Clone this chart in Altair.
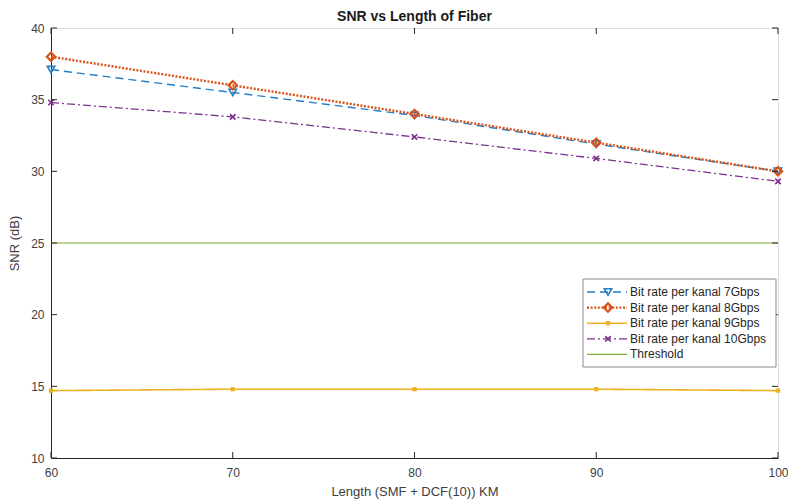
import altair as alt
import pandas as pd

lengths = [60, 70, 80, 90, 100]
series_names = [
    "Bit rate per kanal 7Gbps",
    "Bit rate per kanal 8Gbps",
    "Bit rate per kanal 9Gbps",
    "Bit rate per kanal 10Gbps",
]
snr_7 = [37.1, 35.5, 33.9, 31.9, 30.0]
snr_8 = [38.0, 36.0, 34.0, 32.0, 30.0]
snr_9 = [14.7, 14.8, 14.8, 14.8, 14.7]
snr_10 = [34.8, 33.8, 32.4, 30.9, 29.3]
threshold = 25
threshold_name = "Threshold"
x_ticks = [60, 70, 80, 90, 100]
y_ticks = [10, 15, 20, 25, 30, 35, 40]

W, H = 727, 430
FONT = "Liberation Sans"

XSHAPE = "M-1,-1L1,1M-1,1L1,-1"
colors = ["#1f7fc8", "#D95319", "#EDB120", "#7E2F8E", "#77AC30"]
dashes = [[8, 5], [2, 1.6], [1, 0], [8, 3, 2, 3], [1, 0]]
widths = [1.4, 2.4, 1.6, 1.3, 1.2]
shapes = ["triangle-down", "diamond", "square", XSHAPE, None]
msizes = [55, 70, 18, 30, 0]
mfilled = [False, False, True, False, True]
mstroke = [1.6, 2.2, 1, 1.6, 1]

all_vals = [snr_7, snr_8, snr_9, snr_10]
rows = []
for name, vals in zip(series_names, all_vals):
    for L, v in zip(lengths, vals):
        rows.append({"series": name, "length": L, "snr": v})
df = pd.DataFrame(rows)

xsc = alt.Scale(domain=[60, 100], nice=False, zero=False)
ysc = alt.Scale(domain=[10, 40], nice=False, zero=False)

xax = alt.Axis(values=x_ticks, tickSize=0, grid=False, labelPadding=9, labelFlush=False,
               domainColor="#262626", labelColor="#404040", labelFontSize=12,
               labelFont=FONT, titleFont=FONT, titleFontSize=13,
               titleFontWeight="normal", titleColor="#404040", titlePadding=7)
yax = alt.Axis(values=y_ticks, tickSize=0, grid=False, labelPadding=7, labelFlush=False,
               domainColor="#262626", labelColor="#404040", labelFontSize=12,
               labelFont=FONT, titleFont=FONT, titleFontSize=13,
               titleFontWeight="normal", titleColor="#404040", titlePadding=9)

layers = []

thr_df = pd.DataFrame({"length": [60, 100], "snr": [threshold, threshold]})
layers.append(
    alt.Chart(thr_df).mark_line(color=colors[4], strokeWidth=widths[4]).encode(
        x=alt.X("length:Q", scale=xsc, axis=xax, title="Length (SMF + DCF(10)) KM"),
        y=alt.Y("snr:Q", scale=ysc, axis=yax, title="SNR (dB)"),
    )
)

def point_mark(i):
    return dict(shape=shapes[i], size=msizes[i], filled=mfilled[i], color=colors[i],
                strokeWidth=mstroke[i], opacity=1)

for i, name in enumerate(series_names):
    sub = df[df.series == name]
    base = alt.Chart(sub).encode(
        x=alt.X("length:Q", scale=xsc, axis=xax, title="Length (SMF + DCF(10)) KM"),
        y=alt.Y("snr:Q", scale=ysc, axis=yax, title="SNR (dB)"),
    )
    layers.append(base.mark_line(color=colors[i], strokeDash=dashes[i], strokeWidth=widths[i]))
    layers.append(base.mark_point(**point_mark(i)))

# inward ticks
ytk = pd.DataFrame({"v": y_ticks})
xtk = pd.DataFrame({"v": x_ticks})
for x0, x1 in [(0, 6), (W - 6, W)]:
    layers.append(alt.Chart(ytk).mark_rule(color="#262626", strokeWidth=1).encode(
        y=alt.Y("v:Q", scale=ysc), x=alt.value(x0), x2=alt.value(x1)))
for y0, y1 in [(H, H - 6), (0, 6)]:
    layers.append(alt.Chart(xtk).mark_rule(color="#262626", strokeWidth=1).encode(
        x=alt.X("v:Q", scale=xsc), y=alt.value(y0), y2=alt.value(y1)))

# legend
leg_names = series_names + [threshold_name]
lx0, lx1, ly0, ly1 = 532, 725, 251, 339
layers.append(alt.Chart(pd.DataFrame({"a": [0]})).mark_rect(
    fill="white", stroke="#8c8c8c", strokeWidth=1).encode(
    x=alt.value(lx0), x2=alt.value(lx1), y=alt.value(ly0), y2=alt.value(ly1)))
for i, name in enumerate(leg_names):
    yy = 264 + i * 15.6
    one = pd.DataFrame({"label": [name]})
    layers.append(alt.Chart(one).mark_rule(color=colors[i], strokeDash=dashes[i],
                                            strokeWidth=widths[i]).encode(
        x=alt.value(536), x2=alt.value(576), y=alt.value(yy)))
    if shapes[i]:
        layers.append(alt.Chart(one).mark_point(**point_mark(i)).encode(
            x=alt.value(557), y=alt.value(yy)))
    layers.append(alt.Chart(one).mark_text(align="left", baseline="middle",
                                            font=FONT, fontSize=12, color="#262626").encode(
        x=alt.value(579), y=alt.value(yy), text="label:N"))

chart = alt.layer(*layers).properties(
    width=W, height=H,
    title=alt.TitleParams("SNR vs Length of Fiber", font=FONT, fontSize=14,
                          fontWeight="bold", color="#1a1a1a", offset=-2),
    autosize=alt.AutoSizeParams(type="none"),
    padding={"left": 51, "top": 28, "right": 10, "bottom": 43},
).configure_view(stroke="#999999", strokeWidth=1).configure(background="white")

chart.save("out.html", embed_options={"renderer": "svg", "actions": False})
